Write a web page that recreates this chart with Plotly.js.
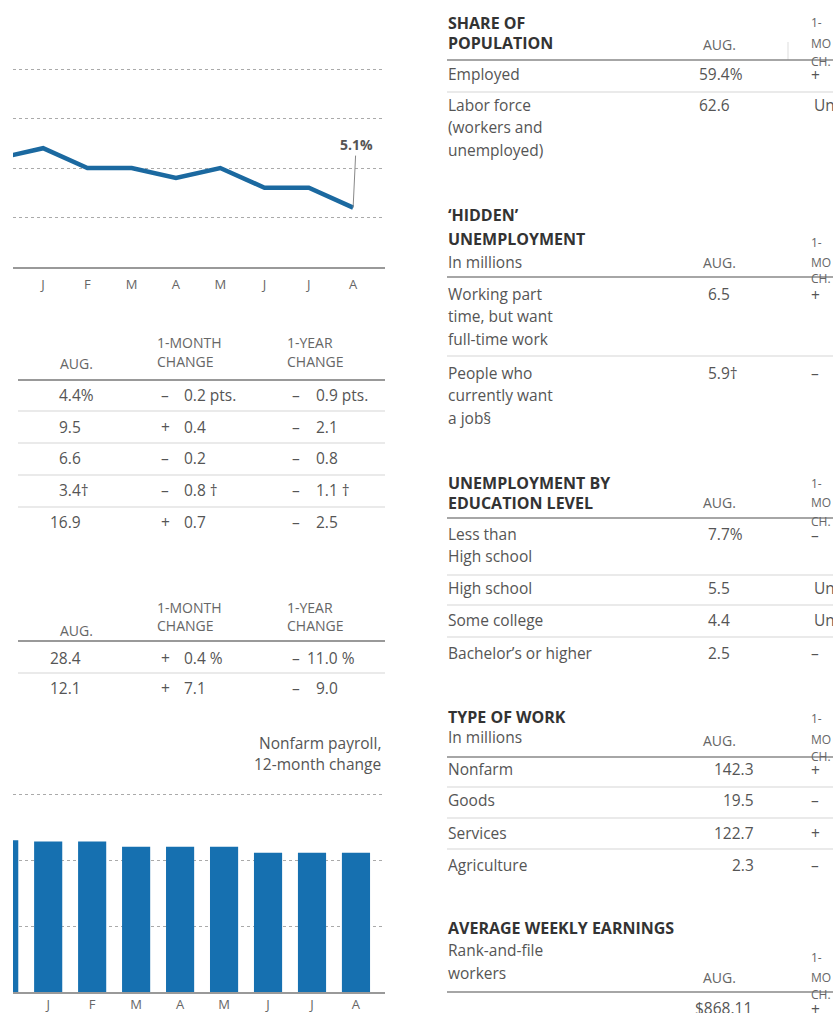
<!DOCTYPE html>
<html>
<head>
<meta charset="utf-8">
<script src="https://cdn.plot.ly/plotly-3.0.1.min.js"></script>
<style>
html,body{margin:0;padding:0;background:#fff;overflow:hidden;}
#chart{width:833px;height:1013px;}
</style>
</head>
<body>
<div id="chart"></div>
<script>
// ---------------- DATA ----------------
// Months (first point is previous December, clipped at the left edge)
const months = ['D', 'J', 'F', 'M', 'A', 'M', 'J', 'J', 'A'];
const monthTicks = ['J', 'F', 'M', 'A', 'M', 'J', 'J', 'A'];
// Unemployment rate, %
const unemploymentRate = [5.6, 5.7, 5.5, 5.5, 5.4, 5.5, 5.3, 5.3, 5.1];
const latestRateLabel = '5.1%';
// Nonfarm payroll, 12-month change (millions, unlabelled scale)
const payrollChange = [2.30, 2.28, 2.28, 2.20, 2.20, 2.20, 2.11, 2.11, 2.11];
const payrollTitle = ['Nonfarm payroll,', '12-month change'];

// Left table 1
const t1Aug = ['4.4%', '9.5', '6.6', '3.4†', '16.9'];
const t1MonthSign = ['–', '+', '–', '–', '+'];
const t1MonthVal = ['0.2 pts.', '0.4', '0.2', '0.8 †', '0.7'];
const t1YearSign = ['–', '–', '–', '–', '–'];
const t1YearVal = ['0.9 pts.', '2.1', '0.8', '1.1 †', '2.5'];
// Left table 2
const t2Aug = ['28.4', '12.1'];
const t2MonthSign = ['+', '+'];
const t2MonthVal = ['0.4 %', '7.1'];
const t2YearSign = ['–', '–'];
const t2YearVal = ['11.0 %', '9.0'];

// Right tables
const popTitle = ['SHARE OF', 'POPULATION'];
const popLabels = [['Employed'], ['Labor force', '(workers and', 'unemployed)']];
const popAug = ['59.4%', '62.6'];
const popChange = ['+', 'Unch.'];

const hiddenTitle = ['‘HIDDEN’', 'UNEMPLOYMENT'];
const hiddenSub = 'In millions';
const hiddenLabels = [['Working part', 'time, but want', 'full-time work'], ['People who', 'currently want', 'a job§']];
const hiddenAug = ['6.5', '5.9†'];
const hiddenChange = ['+', '–'];

const eduTitle = ['UNEMPLOYMENT BY', 'EDUCATION LEVEL'];
const eduLabels = [['Less than', 'High school'], ['High school'], ['Some college'], ['Bachelor’s or higher']];
const eduAug = ['7.7%', '5.5', '4.4', '2.5'];
const eduChange = ['–', 'Unch.', 'Unch.', '–'];

const workTitle = ['TYPE OF WORK'];
const workSub = 'In millions';
const workLabels = [['Nonfarm'], ['Goods'], ['Services'], ['Agriculture']];
const workAug = ['142.3', '19.5', '122.7', '2.3'];
const workChange = ['+', '–', '+', '–'];

const earnTitle = ['AVERAGE WEEKLY EARNINGS'];
const earnSub = ['Rank-and-file', 'workers'];
const earnAug = ['$868.11'];
const earnChange = ['+'];

const colAug = 'AUG.';
const colMonth = ['1-MONTH', 'CHANGE'];
const colYear = ['1-YEAR', 'CHANGE'];
const colMoShort = ['1-', 'MO', 'CH.'];

// ---------------- LAYOUT HELPERS ----------------
const W = 833, H = 1013;
const FONT = 'Open Sans, Noto Sans, sans-serif';
const TXT = '#555', HEAD = '#333', SUB = '#666';
const BODY = 15.5, TITLE = 16, HDR = 14;
const px = x => x / W;
const py = y => 1 - y / H;
const annotations = [];
const shapes = [];
function txt(x, y, text, o) {
  o = o || {};
  annotations.push({
    xref: 'paper', yref: 'paper', x: px(x), y: py(y), text: text,
    showarrow: false, xanchor: o.anchor || 'left', yanchor: 'middle',
    font: {family: FONT, size: o.size || BODY, color: o.color || TXT},
    borderpad: 0
  });
}
function hline(x0, x1, y, color, width) {
  shapes.push({type: 'line', xref: 'paper', yref: 'paper', x0: px(x0), x1: px(x1),
    y0: py(y), y1: py(y), line: {color: color, width: width}});
}
function vline(x, y0, y1, color, width) {
  shapes.push({type: 'line', xref: 'paper', yref: 'paper', x0: px(x), x1: px(x),
    y0: py(y0), y1: py(y1), line: {color: color, width: width}});
}
const DIGIT = 0.572 * BODY;
// decimal-aligned text: decX is where the integer part ends
function decText(decX, y, s, o) {
  const m = s.replace('$', '').match(/^(\d+)/);
  const n = m ? m[1].length : 1;
  const extra = s.startsWith('$') ? DIGIT : 0;
  txt(decX - n * DIGIT - extra, y, s, o);
}

// ---------------- LEFT TABLES ----------------
function leftTable(hy, lineY, rowYs, sepYs, aug, mSign, mVal, ySign, yVal) {
  txt(76, hy.aug, colAug, {anchor: 'center', size: HDR, color: SUB});
  txt(156, hy.l1, colMonth[0], {size: HDR, color: SUB});
  txt(156, hy.l2, colMonth[1], {size: HDR, color: SUB});
  txt(286, hy.l1, colYear[0], {size: HDR, color: SUB});
  txt(286, hy.l2, colYear[1], {size: HDR, color: SUB});
  hline(18, 385, lineY, '#999', 2);
  sepYs.forEach(y => hline(18, 385, y, '#d5d5d5', 1));
  rowYs.forEach((y, i) => {
    decText(67, y, aug[i]);
    txt(165, y, mSign[i], {anchor: 'center'});
    decText(192, y, mVal[i]);
    txt(296, y, ySign[i], {anchor: 'center'});
    decText(324, y, yVal[i]);
  });
}
leftTable({aug: 363, l1: 342, l2: 362}, 380, [395, 427, 458, 490, 522], [411, 443, 475, 507],
  t1Aug, t1MonthSign, t1MonthVal, t1YearSign, t1YearVal);
leftTable({aug: 630, l1: 607, l2: 625}, 641, [658, 688], [673],
  t2Aug, t2MonthSign, t2MonthVal, t2YearSign, t2YearVal);
txt(382, 743, payrollTitle[0], {anchor: 'right'});
txt(382, 764, payrollTitle[1], {anchor: 'right'});

// ---------------- RIGHT TABLES ----------------
const RX = 447, LH = 22.3;
function rightTable(spec) {
  spec.title.forEach((t, i) => txt(RX, spec.titleY[i], '<b>' + t + '</b>', {color: HEAD, size: TITLE}));
  (spec.sub || []).forEach((t, i) => txt(RX, spec.subY[i], t));
  txt(719, spec.augY, colAug, {anchor: 'center', size: HDR, color: SUB});
  colMoShort.forEach((t, i) => txt(810, spec.moY[i] - (i === 2 ? 1 : 0), t, {size: 12, color: SUB}));
  hline(RX, W, spec.lineY, '#888', 1.5);
  (spec.seps || []).forEach(y => hline(RX, W, y, '#d5d5d5', 1));
  spec.rowY.forEach((y, i) => {
    (spec.labels ? spec.labels[i] : []).forEach((l, k) => txt(RX, y + k * LH, l));
    if (spec.right) txt(spec.right, y, spec.aug[i], {anchor: 'right'});
    else decText(716, y, spec.aug[i]);
    const c = spec.change[i];
    if (c.length > 1) txt(813, y, c);
    else txt(815, y + (i === 0 ? 1 : 0), c, {anchor: 'center'});
  });
}
vline(788, 42, 60, '#ddd', 1);
rightTable({title: popTitle, titleY: [23, 43], augY: 45, moY: [23, 43, 63], lineY: 60,
  seps: [92], rowY: [74, 105], labels: popLabels, aug: popAug, change: popChange});
rightTable({title: hiddenTitle, titleY: [215, 239], sub: [hiddenSub], subY: [262], augY: 262,
  moY: [243, 262, 280], lineY: 277, seps: [356], rowY: [294, 373], labels: hiddenLabels,
  aug: hiddenAug, change: hiddenChange});
rightTable({title: eduTitle, titleY: [483, 503], augY: 503, moY: [483, 503, 522], lineY: 518,
  seps: [575, 605, 637], rowY: [534, 588, 620, 653], labels: eduLabels, aug: eduAug, change: eduChange});
rightTable({title: workTitle, titleY: [717], sub: [workSub], subY: [737], augY: 740,
  moY: [718, 739, 757], lineY: 757, seps: [787, 818, 849], rowY: [769, 800, 833, 865],
  labels: workLabels, aug: workAug, change: workChange, right: 755});
rightTable({title: earnTitle, titleY: [928], sub: earnSub, subY: [950, 973], augY: 977,
  moY: [957, 977, 995], lineY: 992, rowY: [1008], aug: earnAug, change: earnChange, right: 753});

// ---------------- CHARTS ----------------
const xIdx = months.map((_, i) => i);
const tickIdx = monthTicks.map((_, i) => i + 1);

const lineTrace = {
  type: 'scatter', mode: 'lines', x: xIdx, y: unemploymentRate,
  xaxis: 'x', yaxis: 'y', line: {color: '#1b69a0', width: 4.5}, hoverinfo: 'skip'
};
const barTrace = {
  type: 'bar', x: xIdx, y: payrollChange, xaxis: 'x2', yaxis: 'y2',
  marker: {color: '#1670b0'}, hoverinfo: 'skip'
};

annotations.push({
  xref: 'x', yref: 'y', x: xIdx[xIdx.length - 1], y: unemploymentRate[unemploymentRate.length - 1],
  text: '<b>' + latestRateLabel + '</b>', showarrow: true, arrowhead: 0, arrowwidth: 1,
  arrowcolor: '#888', ax: 3, ay: -63, standoff: 0,
  font: {family: FONT, size: 14, color: '#555'}
});

const xCommon = {
  showgrid: false, zeroline: false, showline: true, linecolor: '#999', linewidth: 2,
  tickmode: 'array', tickvals: tickIdx, ticktext: monthTicks, ticks: '',
  tickfont: {family: FONT, size: 13, color: '#666'}, fixedrange: true
};
const yCommon = {
  showgrid: true, gridcolor: '#aaa', griddash: 'dot', gridwidth: 1, zeroline: false,
  showticklabels: false, ticks: '', fixedrange: true
};

// line chart: 99 px per percentage point, baseline 4.5 at y=267
const lineTopPx = 55;
const lineTop = 4.5 + (267 - lineTopPx) / 99;
// bar chart: 66 px per unit, baseline 0 at y=992
const barTopPx = 780;
const barTop = (992 - barTopPx) / 66;

const layout = {
  width: W, height: H, margin: {l: 0, r: 0, t: 0, b: 0},
  paper_bgcolor: '#fff', plot_bgcolor: 'rgba(0,0,0,0)', showlegend: false,
  bargap: 0.36, hovermode: false,
  xaxis: Object.assign({}, xCommon, {domain: [px(13), px(385)], range: [0.32, 8.72],
    anchor: 'y', ticklabelstandoff: 4}),
  yaxis: Object.assign({}, yCommon, {domain: [py(267), py(lineTopPx)], range: [4.5, lineTop],
    tickmode: 'array', tickvals: [5, 5.5, 6, 6.5], anchor: 'x'}),
  xaxis2: Object.assign({}, xCommon, {domain: [px(13), px(385)], range: [0.2, 8.66],
    anchor: 'y2', ticklabelstandoff: -1}),
  yaxis2: Object.assign({}, yCommon, {domain: [py(992), py(barTopPx)], range: [0, barTop],
    tickmode: 'array', tickvals: [1, 2, 3], anchor: 'x2'}),
  annotations: annotations, shapes: shapes
};

Plotly.newPlot('chart', [lineTrace, barTrace], layout, {staticPlot: true, displayModeBar: false});
</script>
</body>
</html>
